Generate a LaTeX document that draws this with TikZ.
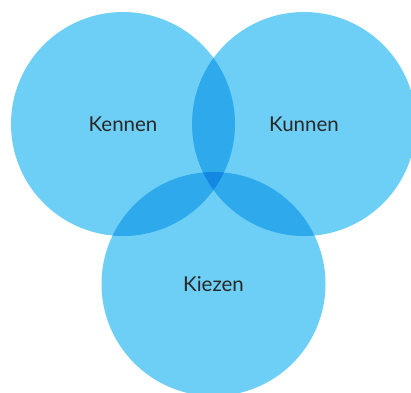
\documentclass[tikz,border=0pt]{standalone}
\usepackage{fontspec}
\setmainfont{Lato}
\begin{document}
\begin{tikzpicture}[x=1pt,y=-1pt,
  setlabel/.style={circle,minimum size=224pt,inner sep=0pt,text=labelgray,font=\fontsize{20.5}{24}\selectfont},
]
\definecolor{oneset}{RGB}{109,207,245}
\definecolor{twosets}{RGB}{46,169,235}
\definecolor{threesets}{RGB}{19,136,226}
\definecolor{labelgray}{RGB}{40,40,40}
\def\rad{112}
\useasboundingbox (0,0) rectangle (411,392);
% the three sets
\coordinate (a) at (123,124);
\coordinate (b) at (304,124);
\coordinate (c) at (213.5,284);
\fill[oneset] (a) circle[radius=\rad] (b) circle[radius=\rad] (c) circle[radius=\rad];
% pairwise overlaps
\begin{scope}
  \clip (a) circle[radius=\rad];
  \fill[twosets] (b) circle[radius=\rad] (c) circle[radius=\rad];
\end{scope}
\begin{scope}
  \clip (b) circle[radius=\rad];
  \fill[twosets] (c) circle[radius=\rad];
\end{scope}
% centre overlap
\begin{scope}
  \clip (a) circle[radius=\rad];
  \clip (b) circle[radius=\rad];
  \fill[threesets] (c) circle[radius=\rad];
\end{scope}
% labels
\node[setlabel] (kennen) at (a) {Kennen};
\node[setlabel] (kunnen) at (b) {Kunnen};
\node[setlabel] (kiezen) at (c) {Kiezen};
\end{tikzpicture}
\end{document}
